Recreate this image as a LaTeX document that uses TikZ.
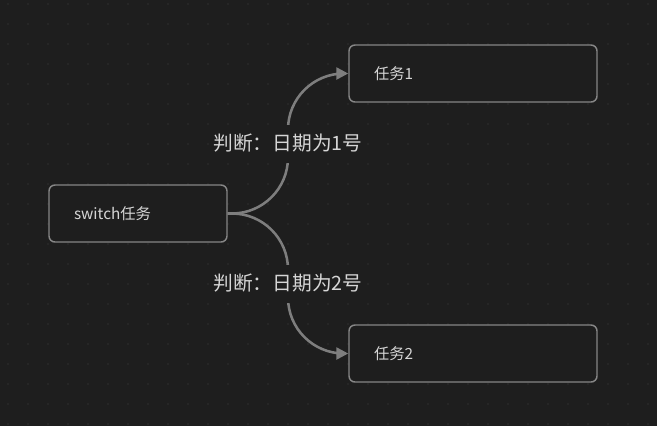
\documentclass[tikz,border=0pt]{standalone}
\usepackage{fontspec}
\newfontfamily\cjk{Noto Sans CJK SC}
\usetikzlibrary{arrows.meta,positioning,calc}
\definecolor{CanvasBg}{HTML}{1E1E1E}
\definecolor{GridDot}{HTML}{303030}
\definecolor{BoxRule}{HTML}{868686}
\definecolor{EdgeGray}{HTML}{7E7E7E}
\definecolor{LabelInk}{HTML}{D6D6D6}

\begin{document}
\begin{tikzpicture}[x=0.75pt,y=-0.75pt,
  task/.style={draw=BoxRule,line width=1.1pt,rounded corners=4.5pt,fill=CanvasBg,
    minimum height=42.75pt,inner xsep=18.75pt,align=left,text=LabelInk,
    font=\cjk\fontsize{11.5}{14}\selectfont},
  branch/.style={draw=EdgeGray,line width=1.9pt,-{Triangle[length=9pt,width=9pt]}},
  cond/.style={fill=CanvasBg,text=LabelInk,minimum height=28.5pt,inner xsep=1pt,
    font=\cjk\fontsize{14.8}{17}\selectfont}]
  \fill[CanvasBg] (0,0) rectangle (657,426);
  \useasboundingbox (0,0) rectangle (657,426);
  % dot grid
  \foreach \gx in {8,28,...,648}
    \foreach \gy in {4,24,...,424}
      \fill[GridDot] (\gx,\gy) circle (0.6pt);
  \node[task,text width=96pt] (sw) at (138,213.5) {switch任务};
  \node[task,text width=148.5pt] (t1) at (473,73.5) {任务1};
  \node[task,text width=148.5pt] (t2) at (473,353.5) {任务2};
  \coordinate (j1) at ($(sw.east)!0.5!(t1.west)$);
  \coordinate (j2) at ($(sw.east)!0.5!(t2.west)$);
  \draw[branch] (sw.east) [rounded corners=42pt]
    -- (j1 |- sw.east) -- (j1 |- t1.west) -- (t1.west);
  \draw[branch] (sw.east) [rounded corners=42pt]
    -- (j2 |- sw.east) -- (j2 |- t2.west) -- (t2.west);
  \node[cond] (c1) at (j1) {判断：日期为1号};
  \node[cond] (c2) at (j2) {判断：日期为2号};
\end{tikzpicture}
\end{document}
